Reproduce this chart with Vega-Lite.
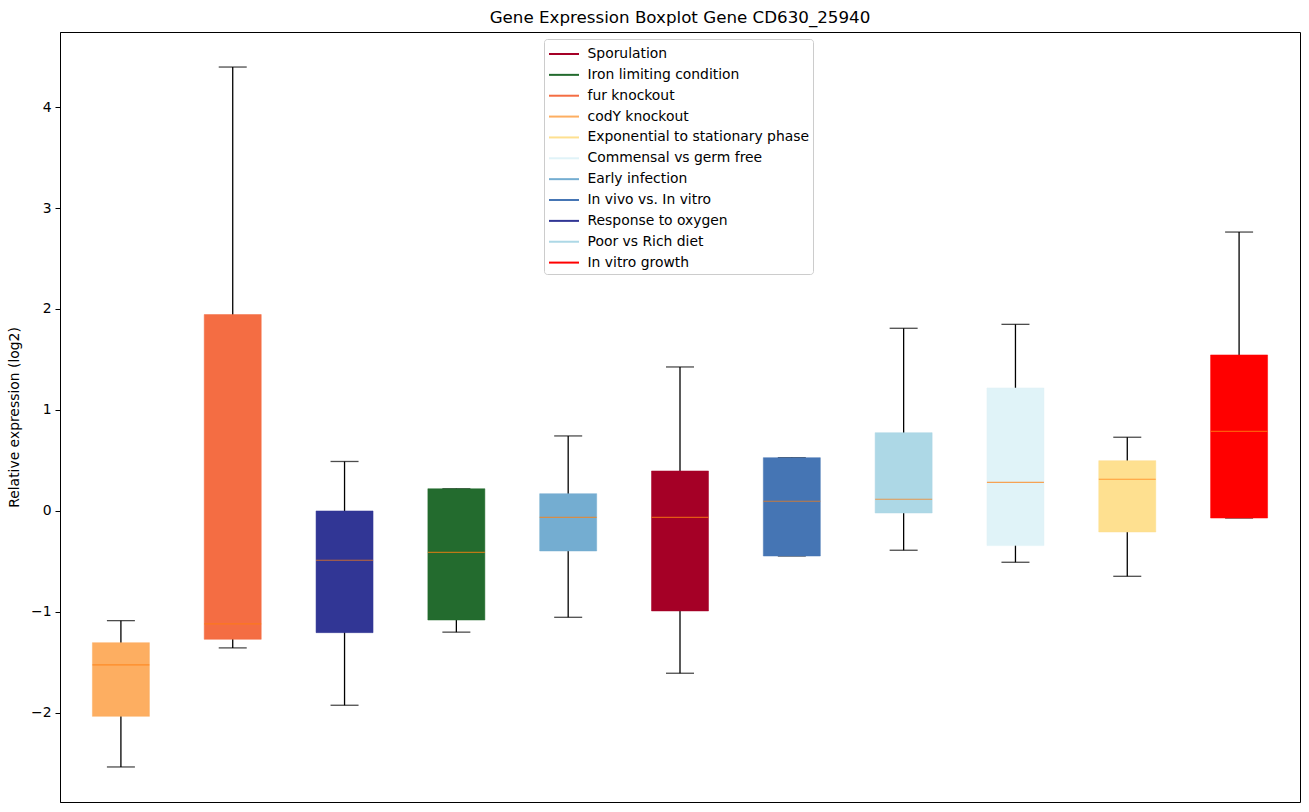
{
  "$schema": "https://vega.github.io/schema/vega-lite/v6.json",
  "autosize": {"type": "none"},
  "padding": {"left": 60, "top": 32, "right": 9, "bottom": 10},
  "width": 1240,
  "height": 770,
  "background": "white",
  "config": {
    "view": {"stroke": "black", "strokeWidth": 1},
    "font": "DejaVu Sans"
  },
  "title": {
    "text": "Gene Expression Boxplot Gene CD630_25940",
    "fontSize": 16.7,
    "fontWeight": "normal",
    "font": "DejaVu Sans",
    "color": "black",
    "offset": 5
  },
  "data": {
    "values": [
      {"name": "codY knockout", "pos": 1, "lo": -2.535, "q1": -2.034, "med": -1.525, "q3": -1.304, "hi": -1.086},
      {"name": "fur knockout", "pos": 2, "lo": -1.356, "q1": -1.271, "med": -1.119, "q3": 1.945, "hi": 4.396},
      {"name": "Response to oxygen", "pos": 3, "lo": -1.924, "q1": -1.205, "med": -0.488, "q3": 0.0, "hi": 0.49},
      {"name": "Iron limiting condition", "pos": 4, "lo": -1.2, "q1": -1.08, "med": -0.41, "q3": 0.22, "hi": 0.22},
      {"name": "Early infection", "pos": 5, "lo": -1.053, "q1": -0.396, "med": -0.063, "q3": 0.171, "hi": 0.743},
      {"name": "Sporulation", "pos": 6, "lo": -1.607, "q1": -0.99, "med": -0.063, "q3": 0.396, "hi": 1.426},
      {"name": "In vivo vs. In vitro", "pos": 7, "lo": -0.446, "q1": -0.446, "med": 0.096, "q3": 0.528, "hi": 0.528},
      {"name": "Poor vs Rich diet", "pos": 8, "lo": -0.389, "q1": -0.02, "med": 0.116, "q3": 0.775, "hi": 1.809},
      {"name": "Commensal vs germ free", "pos": 9, "lo": -0.508, "q1": -0.343, "med": 0.284, "q3": 1.218, "hi": 1.848},
      {"name": "Exponential to stationary phase", "pos": 10, "lo": -0.647, "q1": -0.208, "med": 0.314, "q3": 0.498, "hi": 0.73},
      {"name": "In vitro growth", "pos": 11, "lo": -0.07, "q1": -0.07, "med": 0.789, "q3": 1.545, "hi": 2.762}
    ]
  },
  "encoding": {
    "x": {
      "field": "pos",
      "type": "quantitative",
      "scale": {"domain": [0.5, 11.5], "nice": false, "zero": false},
      "axis": null
    }
  },
  "layer": [
    {
      "mark": {"type": "rule", "color": "black", "strokeWidth": 1.3},
      "encoding": {
        "y": {
          "field": "lo",
          "type": "quantitative",
          "scale": {"domain": [-2.882, 4.743], "nice": false, "zero": false},
          "axis": {
            "title": "Relative expression (log2)",
            "titleFont": "DejaVu Sans",
            "titleFontSize": 13.9,
            "titleFontWeight": "normal",
            "titleColor": "black",
            "titlePadding": 9,
            "values": [-2, -1, 0, 1, 2, 3, 4],
            "format": "d",
            "labelFont": "DejaVu Sans",
            "labelFontSize": 13.9,
            "labelColor": "black",
            "labelPadding": 4,
            "tickSize": 5,
            "tickColor": "black",
            "domainColor": "black",
            "grid": false
          }
        },
        "y2": {"field": "hi"}
      }
    },
    {
      "mark": {"type": "tick", "orient": "horizontal", "color": "black", "size": 28, "thickness": 1.3},
      "encoding": {"y": {"field": "lo", "type": "quantitative"}}
    },
    {
      "mark": {"type": "tick", "orient": "horizontal", "color": "black", "size": 28, "thickness": 1.3},
      "encoding": {"y": {"field": "hi", "type": "quantitative"}}
    },
    {
      "mark": {"type": "bar", "size": 57, "strokeWidth": 1, "strokeOpacity": 0.5},
      "encoding": {
        "y": {"field": "q1", "type": "quantitative"},
        "y2": {"field": "q3"},
        "fill": {
          "field": "name",
          "type": "nominal",
          "scale": {
            "domain": ["Sporulation", "Iron limiting condition", "fur knockout", "codY knockout", "Exponential to stationary phase", "Commensal vs germ free", "Early infection", "In vivo vs. In vitro", "Response to oxygen", "Poor vs Rich diet", "In vitro growth"],
            "range": ["#a50026", "#236b2e", "#f46d43", "#fdae61", "#fee090", "#e0f3f8", "#74add1", "#4575b4", "#313695", "#add8e6", "#ff0000"]
          },
          "legend": {
            "title": null,
            "orient": "none",
            "legendX": 484,
            "legendY": 7,
            "symbolType": "M-1.5,0H1.5",
            "symbolSize": 400,
            "symbolOffset": 5,
            "symbolStrokeWidth": 2,
            "symbolOpacity": 1,
            "labelFont": "DejaVu Sans",
            "labelFontSize": 13.9,
            "labelColor": "black",
            "labelOffset": 12.5,
            "labelLimit": 400,
            "rowPadding": 2.86,
            "padding": 4,
            "strokeColor": "#cccccc",
            "fillColor": "white",
            "cornerRadius": 3
          }
        },
        "stroke": {
          "field": "name",
          "type": "nominal",
          "scale": {
            "domain": ["Sporulation", "Iron limiting condition", "fur knockout", "codY knockout", "Exponential to stationary phase", "Commensal vs germ free", "Early infection", "In vivo vs. In vitro", "Response to oxygen", "Poor vs Rich diet", "In vitro growth"],
            "range": ["#a50026", "#236b2e", "#f46d43", "#fdae61", "#fee090", "#e0f3f8", "#74add1", "#4575b4", "#313695", "#add8e6", "#ff0000"]
          },
          "legend": null
        }
      }
    },
    {
      "mark": {"type": "tick", "orient": "horizontal", "color": "#ff7f0e", "size": 57, "thickness": 1.2},
      "encoding": {"y": {"field": "med", "type": "quantitative"}}
    }
  ]
}
